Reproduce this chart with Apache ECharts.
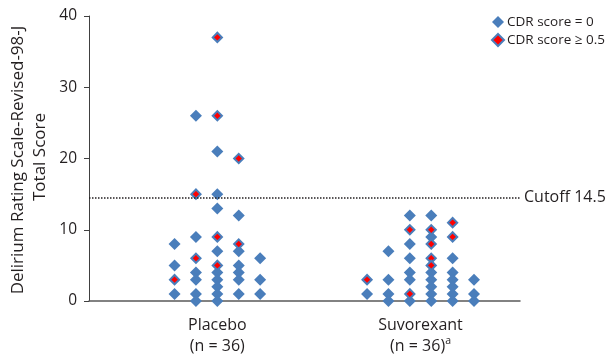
<!DOCTYPE html>
<html><head><meta charset="utf-8">
<script src="https://cdn.jsdelivr.net/npm/echarts@6/dist/echarts.min.js"></script>
<style>html,body{margin:0;padding:0;background:#fff}#c{width:610px;height:362px}</style>
</head><body><div id="c"></div>
<script>
const categories = ['Placebo', 'Suvorexant'];
const groupN = [36, 36];
const groupNote = ['', 'a'];
const seriesNames = ['CDR score = 0', 'CDR score \u2265 0.5'];
const yTitleLines = ['Delirium Rating Scale-Revised-98-J', 'Total Score'];
const yTicks = [0, 10, 20, 30, 40];
const cutoff = 14.5;
// values per jitter column (left to right)
const placeboCdr0 = [[8, 5, 1], [26, 9, 4, 3, 1, 0], [21, 15, 13, 7, 4, 3, 2, 1, 0], [12, 7, 5, 4, 3, 1], [6, 3, 1]];
const placeboCdr05 = [[3], [15, 6], [37, 26, 9, 5], [20, 8], []];
const suvoCdr0 = [[1], [7, 3, 1, 0], [12, 8, 6, 4, 3, 0], [12, 9, 4, 3, 2, 1, 0], [6, 4, 3, 2, 1, 0], [3, 1, 0]];
const suvoCdr05 = [[3], [], [10, 1], [10, 8, 6, 5], [11, 9], []];

const centers = [6, 15.5];
function toPoints(cols, center) {
  const out = [];
  const n = cols.length;
  cols.forEach((col, i) => {
    const x = center + (i - (n - 1) / 2);
    col.forEach(v => out.push([x, v]));
  });
  return out;
}
const blueData = toPoints(placeboCdr0, centers[0]).concat(toPoints(suvoCdr0, centers[1]));
const redData = toPoints(placeboCdr05, centers[0]).concat(toPoints(suvoCdr05, centers[1]));

const FONT = 'Open Sans';
const TXT = '#231f20';
const BLUE = '#4a7ebb';
const chart = echarts.init(document.getElementById('c'), null, {renderer: 'canvas'});
chart.setOption({
  animation: false,
  textStyle: {fontFamily: FONT, color: TXT},
  grid: {left: 89, right: 90, top: 16, bottom: 61, outerBoundsMode: 'none', containLabel: false},
  legend: {
    orient: 'vertical', left: 486, top: 9, itemWidth: 12, itemHeight: 12, itemGap: 2,
    textStyle: {fontSize: 13.5, lineHeight: 16, color: TXT, fontFamily: FONT, padding: [0, 0, 0, -2]},
    data: [{name: seriesNames[0], icon: 'diamond'}, {name: seriesNames[1], icon: 'diamond'}]
  },
  graphic: [
    {type: 'text', x: 18, y: 160, rotation: Math.PI / 2, silent: true,
     style: {text: yTitleLines[0], fontSize: 17, fontFamily: FONT, fill: TXT, align: 'center', verticalAlign: 'middle'}},
    {type: 'text', x: 40, y: 157, rotation: Math.PI / 2, silent: true,
     style: {text: yTitleLines[1], fontSize: 17, fontFamily: FONT, fill: TXT, align: 'center', verticalAlign: 'middle'}}
  ],
  xAxis: {
    type: 'value', min: 0, max: 20.15,
    axisLine: {show: true, onZero: true, lineStyle: {color: '#595959', width: 1.5}},
    axisTick: {show: false},
    splitLine: {show: false},
    axisLabel: {
      customValues: centers,
      margin: 14,
      formatter: function (v) {
        const i = centers.indexOf(v);
        if (i < 0) return '';
        return '{t|' + categories[i] + '}\n{t|(n = ' + groupN[i] + ')}' + (groupNote[i] ? '{s|' + groupNote[i] + '}' : '');
      },
      rich: {
        t: {fontSize: 16, fontFamily: FONT, color: TXT, lineHeight: 21},
        s: {fontSize: 10.5, fontFamily: FONT, color: TXT, verticalAlign: 'top', lineHeight: 21, padding: [0, 0, 9, 0]}
      }
    }
  },
  yAxis: {
    type: 'value', min: yTicks[0], max: yTicks[yTicks.length - 1], interval: 10,
    axisLine: {show: true, lineStyle: {color: '#404040', width: 1}},
    axisTick: {show: true, length: 5, lineStyle: {color: '#404040'}},
    splitLine: {show: false},
    axisLabel: {fontSize: 15.5, fontFamily: FONT, color: TXT, margin: 12}
  },
  series: [
    {
      name: seriesNames[0], type: 'scatter', symbol: 'diamond', symbolSize: 12,
      itemStyle: {color: BLUE, opacity: 1},
      data: blueData,
      markLine: {
        silent: true, symbol: 'none',
        lineStyle: {type: [1.5, 1.5], color: '#231f20', width: 1.5},
        label: {show: true, position: 'end', formatter: 'Cutoff ' + cutoff, fontSize: 16, fontFamily: FONT, color: TXT, distance: 4},
        data: [{yAxis: cutoff}]
      }
    },
    {
      name: seriesNames[1], type: 'scatter', symbol: 'diamond', symbolSize: 9.2,
      itemStyle: {color: '#ff0000', borderColor: BLUE, borderWidth: 2, opacity: 1},
      data: redData
    }
  ]
});
</script></body></html>
